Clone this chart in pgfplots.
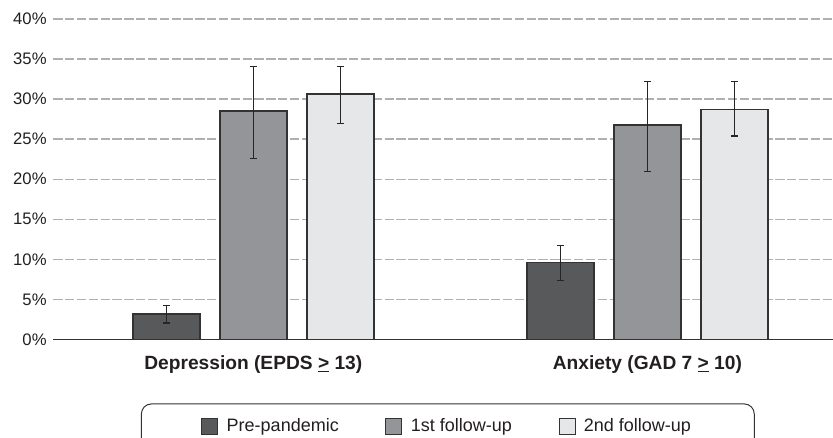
\documentclass[border=0pt]{standalone}
\usepackage{pgfplots}
\pgfplotsset{compat=1.18}
\usepackage{fontspec}
\setmainfont{Liberation Sans}

\definecolor{barA}{HTML}{58595B}
\definecolor{barB}{HTML}{939598}
\definecolor{barC}{HTML}{E6E7E8}
\definecolor{edge}{HTML}{333333}
\definecolor{gridc}{HTML}{B0B0B0}
\definecolor{txt}{HTML}{231F20}

% bars sit at group position +- 0.2208
\begin{document}
\begin{tikzpicture}
\begin{axis}[
    scale only axis,
    width=467.8pt, height=192.2pt,
    xmin=-0.5076, xmax=1.471,
    ymin=0, ymax=40,
    ytick={0,5,...,40},
    yticklabel={\pgfmathprintnumber{\tick}\%},
    /pgf/number format/assume math mode=true,
    yticklabel style={font=\fontsize{10}{12}\selectfont, color=txt, xshift=-0.5pt},
    xtick={0,1},
    xticklabels={Depression (EPDS \underline{>} 13), Anxiety (GAD 7 \underline{>} 10)},
    xticklabel style={font=\fontsize{11.5}{13}\selectfont\bfseries, color=txt, yshift=-6pt},
    major tick length=0pt,
    axis x line=bottom, axis y line=left,
    x axis line style={-, draw=edge, line width=0.8pt},
    y axis line style={draw=none},
    ymajorgrids,
    grid style={gridc, line width=0.8pt, dash pattern=on 5.6pt off 1.5pt},
    bar width=0.170,
    legend columns=3,
    legend style={at={(0.506,-0.2)}, anchor=north, draw=edge, line width=0.6pt,
        rounded corners=6pt, font=\fontsize{10.8}{13}\selectfont, text=txt,
        inner xsep=36pt, inner ysep=7pt,
        /tikz/every odd column/.append style={column sep=3pt},
        /tikz/every even column/.append style={column sep=26pt}},
    legend image code/.code={\draw[#1, line width=0.6pt, sharp corners] (0pt,-4.8pt) rectangle (9.6pt,4.8pt);},
    error bars/y dir=both, error bars/y explicit,
    error bars/error bar style={line width=0.7pt, color=black!85},
    error bars/error mark options={rotate=90, mark size=2.1pt, line width=0.7pt, color=black!85},
]
\addplot[ybar, bar shift=0, fill=barA, draw=edge, line width=1pt] coordinates {
    (-0.2208,3.2) += (0,1.0) -= (0,1.15)
    (0.7792,9.6) += (0,2.1) -= (0,2.2)
};
\addplot[ybar, bar shift=0, fill=barB, draw=edge, line width=1pt] coordinates {
    (0,28.5) += (0,5.6) -= (0,5.9)
    (1,26.8) += (0,5.4) -= (0,5.8)
};
\addplot[ybar, bar shift=0, fill=barC, draw=edge, line width=1pt] coordinates {
    (0.2208,30.6) += (0,3.5) -= (0,3.7)
    (1.2208,28.7) += (0,3.5) -= (0,3.3)
};
\legend{Pre-pandemic, 1st follow-up, 2nd follow-up}
\end{axis}
\pgfresetboundingbox
\path (-31.98pt,-58.62pt) rectangle (467.8pt,203.6pt);
\end{tikzpicture}
\end{document}
